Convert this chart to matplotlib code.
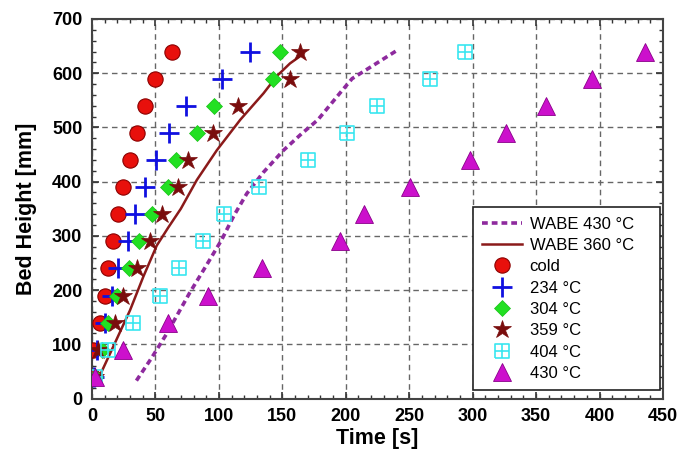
import matplotlib
matplotlib.use("Agg")
import matplotlib.pyplot as plt
from matplotlib.path import Path
from matplotlib.ticker import MultipleLocator

plt.rcParams['font.family'] = ['Liberation Sans', 'DejaVu Sans']

heights = [40, 90, 140, 190, 240, 290, 340, 390, 440, 490, 540, 590, 640]

t_cold = [1, 1, 6.3, 10.3, 12.9, 16.8, 20.8, 24.7, 30, 35.3, 41.8, 49.7, 62.9]
t_234 = [1.5, 3.7, 10.3, 15.5, 20.8, 28.7, 33.5, 42, 50.5, 61, 74.2, 102.4, 124.7]
t_304 = [2, 7.6, 12.9, 19.5, 29.5, 37.3, 47.5, 60.2, 66.3, 82.6, 96.3, 142.6, 148.4]
t_359 = [2, 5, 18.2, 24.7, 35.3, 45.8, 55, 68.1, 76, 95.3, 114.7, 156.3, 163.7]
t_404 = [2.5, 12.9, 32.6, 53.7, 68.9, 87.4, 103.7, 131.3, 170, 201, 224.5, 266.3, 293.7]
t_430 = [2.4, 24.7, 60.2, 91.8, 134, 195.8, 214.2, 250.3, 297.6, 326.6, 357.6, 393.7, 435.8]

wabe430_t = [35, 47, 59, 77, 90, 102, 112, 122, 135, 151, 165, 178, 196, 205, 220, 241]
wabe430_h = [33, 75, 120, 195, 245, 292, 338, 378, 417, 458, 488, 514, 565, 590, 612, 643]

wabe360_t = [1, 6.3, 16.8, 30, 40.5, 51, 60, 70, 82.6, 98.4, 116.8, 135.2, 145.8, 156, 166.8]
wabe360_h = [35, 43, 96, 163, 225, 282, 315, 350, 403, 458, 514, 563, 595, 618, 636]

labels = ['WABE 430 °C', 'WABE 360 °C', 'cold', '234 °C', '304 °C', '359 °C', '404 °C', '430 °C']

fig = plt.figure(figsize=(6.79, 4.5), dpi=100)
ax = fig.add_axes([0.1355, 0.1144, 0.8409, 0.8434])

# square with inner cross marker
verts = [(-1, -1), (1, -1), (1, 1), (-1, 1), (-1, -1),
         (0, -1), (0, 1), (-1, 0), (1, 0)]
codes = [Path.MOVETO, Path.LINETO, Path.LINETO, Path.LINETO, Path.LINETO,
         Path.MOVETO, Path.LINETO, Path.MOVETO, Path.LINETO]
sqcross = Path(verts, codes)

ax.plot(wabe430_t, wabe430_h, linestyle=(0, (1.6, 1.1)), color='#8e2a9e', lw=2.6,
        label=labels[0], zorder=3)
ax.plot(wabe360_t, wabe360_h, '-', color='#8b1a1a', lw=1.8, label=labels[1], zorder=3)

ax.plot(t_cold, heights, 'o', ls='none', ms=11, mfc='#e8100c', mec='#8a0000', mew=0.8,
        label=labels[2], zorder=4)
ax.plot(t_234, heights, '+', ls='none', ms=15, mec='#1010e0', mew=2.0,
        label=labels[3], zorder=4)
ax.plot(t_304, heights, 'D', ls='none', ms=8.5, mfc='#22e022', mec='#18c018', mew=0.5,
        label=labels[4], zorder=4)
ax.plot(t_359, heights, '*', ls='none', ms=13.5, mfc='#7a0d0d', mec='#7a0d0d', mew=0.5,
        label=labels[5], zorder=4)
ax.plot(t_404, heights, marker=sqcross, ls='none', ms=10, mfc='none', mec='#3ae6f0', mew=1.2,
        label=labels[6], zorder=4)
ax.plot(t_430, heights, '^', ls='none', ms=12.5, mfc='#cc10cc', mec='#8a008a', mew=0.6,
        label=labels[7], zorder=4)

ax.set_xlim(0, 450)
ax.set_ylim(0, 700)
ax.xaxis.set_major_locator(MultipleLocator(50))
ax.xaxis.set_minor_locator(MultipleLocator(10))
ax.yaxis.set_major_locator(MultipleLocator(100))
ax.yaxis.set_minor_locator(MultipleLocator(20))
ax.tick_params(which='both', direction='in', top=True, right=True, color='#333333')
ax.tick_params(which='major', length=5, width=1.2, labelsize=13, pad=7)
ax.tick_params(which='minor', length=3, width=1.0)
for lab in ax.get_xticklabels() + ax.get_yticklabels():
    lab.set_fontweight('bold')

ax.grid(True, which='major', linestyle=(0, (4, 3)), color='#666666', lw=1.0)
ax.set_axisbelow(True)
for s in ax.spines.values():
    s.set_color('#444444')
    s.set_linewidth(1.5)

ax.set_xlabel('Time [s]', fontsize=15.5, fontweight='bold', labelpad=2)
ax.set_ylabel('Bed Height [mm]', fontsize=15.5, fontweight='bold', labelpad=11)

leg = ax.legend(loc='lower left', bbox_to_anchor=(0.667, 0.0224, 0.328, 0.47),
                mode='expand', fontsize=12,
                frameon=True, fancybox=False, edgecolor='#222222', framealpha=1,
                handlelength=2.4, labelspacing=0.38, borderpad=0.55,
                handletextpad=0.45, borderaxespad=0.0)
leg.get_frame().set_linewidth(1.2)
leg.set_zorder(10)

fig.savefig('out.png', dpi=100)
